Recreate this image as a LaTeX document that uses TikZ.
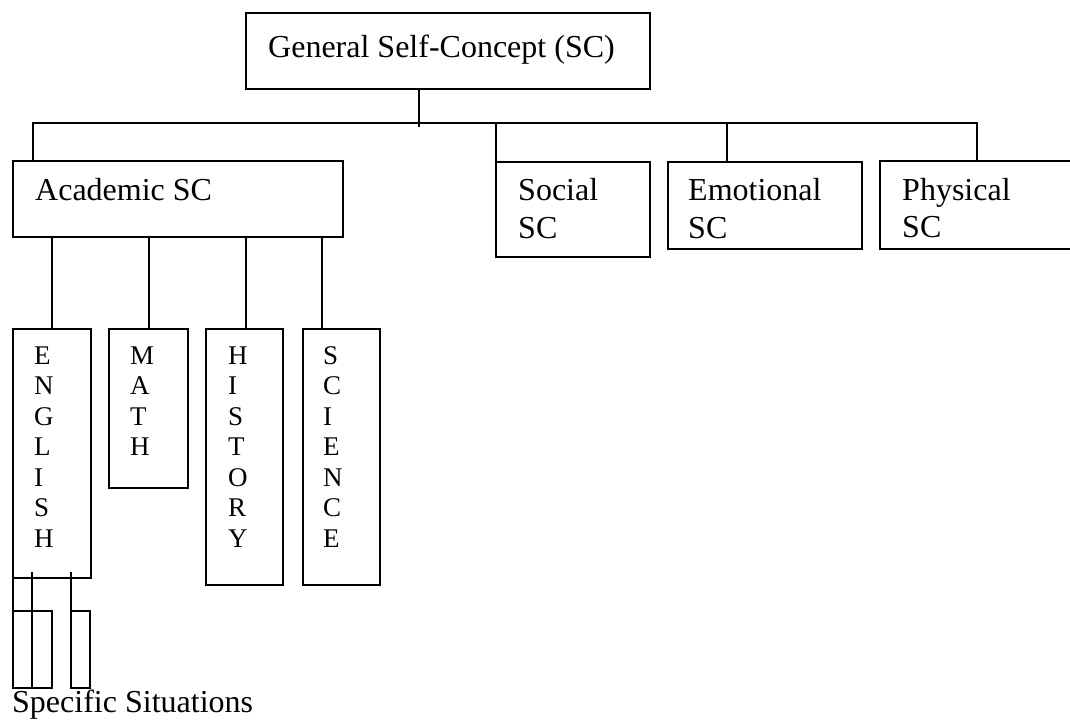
\documentclass[tikz,border=0pt]{standalone}
\usepackage{fontspec}
\setmainfont{Liberation Serif}
\usetikzlibrary{calc}

\tikzset{
  box/.style={draw, line width=2.2pt, rectangle, inner sep=0pt, outer sep=0pt, anchor=north west},
  wire/.style={line width=2.2pt},
  lbl/.style={anchor=base west, inner sep=0pt, font=\fontsize{32}{38}\selectfont},
  letter/.style={anchor=base west, inner sep=0pt, font=\fontsize{27}{30}\selectfont},
}

\begin{document}
\begin{tikzpicture}[x=1pt, y=-1pt]
  \clip (0,0) rectangle (1070,720);

  % boxes
  \node[box, minimum width=404pt, minimum height=76pt] (gen)  at (246,13)  {};
  \node[box, minimum width=330pt, minimum height=76pt] (acad) at (13,161)  {};
  \node[box, minimum width=154pt, minimum height=95pt] (soc)  at (496,162) {};
  \node[box, minimum width=194pt, minimum height=87pt] (emo)  at (668,162) {};
  \node[box, minimum width=210pt, minimum height=88pt] (phys) at (880,161) {};

  \node[box, minimum width=78pt, minimum height=249pt] (eng)  at (13,329)  {};
  \node[box, minimum width=79pt, minimum height=159pt] (math) at (109,329) {};
  \node[box, minimum width=77pt, minimum height=256pt] (hist) at (206,329) {};
  \node[box, minimum width=77pt, minimum height=256pt] (sci)  at (303,329) {};

  \node[box, minimum width=19pt, minimum height=77pt] (s1) at (13,611) {};
  \node[box, minimum width=20pt, minimum height=77pt] (s2) at (32,611) {};
  \node[box, minimum width=19pt, minimum height=77pt] (s3) at (71,611) {};

  % labels
  \node[lbl] (genT)  at (268,57)  {General Self-Concept (SC)};
  \node[lbl] (acadT) at (35,200)  {Academic SC};
  \node[lbl] (socT)  at (518,200) {Social};
  \node[lbl] (socT2) at (518,238) {SC};
  \node[lbl] (emoT)  at (688,200) {Emotional};
  \node[lbl] (emoT2) at (688,238) {SC};
  \node[lbl] (physT) at (902,200) {Physical};
  \node[lbl] (physT2) at (902,237) {SC};
  \node[lbl] (spec)  at (12,712)  {Specific Situations};

  % vertical subject labels
  \foreach \c [count=\i from 0] in {E,N,G,L,I,S,H}
    \node[letter] (engL\i) at (34,{364+30.5*\i}) {\c};
  \foreach \c [count=\i from 0] in {M,A,T,H}
    \node[letter] (mathL\i) at (130,{364+30.5*\i}) {\c};
  \foreach \c [count=\i from 0] in {H,I,S,T,O,R,Y}
    \node[letter] (histL\i) at (228,{364+30.5*\i}) {\c};
  \foreach \c [count=\i from 0] in {S,C,I,E,N,C,E}
    \node[letter] (sciL\i) at (323,{364+30.5*\i}) {\c};

  % junction points
  \coordinate (jTop) at (419,123);
  \coordinate (barL) at (33,123);
  \coordinate (barR) at (977,123);
  \coordinate (jEmo) at (727,123);
  \coordinate (xE) at (52,0);
  \coordinate (xM) at (149,0);
  \coordinate (xH) at (246,0);
  \coordinate (xS) at (322,0);

  % top level connectors
  \draw[wire] (gen.south -| jTop) -- ($(jTop)+(0,4)$);
  \draw[wire] (acad.north -| barL) -- (barL) -- (barR) -- (phys.north -| barR);
  \draw[wire] (soc.north west) -- (soc.north west |- barL);
  \draw[wire] (jEmo) -- (emo.north -| jEmo);

  % academic subject connectors
  \draw[wire] (acad.south -| xE) -- (eng.north -| xE);
  \draw[wire] (acad.south -| xM) -- (math.north -| xM);
  \draw[wire] (acad.south -| xH) -- (hist.north -| xH);
  \draw[wire] (acad.south -| xS) -- (sci.north -| xS);

  % specific situation connectors
  \draw[wire] (eng.south west) -- (s1.north west);
  \draw[wire] ($(eng.south -| s2.north west)+(0,-6)$) -- (s2.north west);
  \draw[wire] ($(eng.south -| s3.north west)+(0,-6)$) -- (s3.north west);
\end{tikzpicture}
\end{document}
